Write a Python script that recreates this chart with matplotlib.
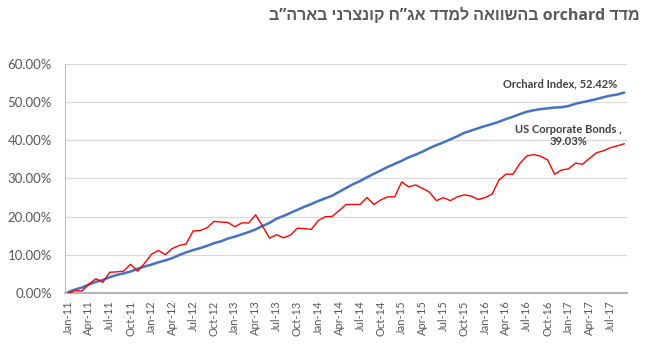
import matplotlib
matplotlib.use("Agg")
import matplotlib.pyplot as plt
from matplotlib.ticker import FuncFormatter, FixedLocator
import datetime as dt

# ---- data ----
start_year, start_month = 2011, 1
orchard = [0.3, 1.0, 1.5, 2.3, 3.0, 3.5, 4.2, 4.8, 5.2, 5.7, 6.4, 7.0, 7.5, 8.1, 8.6, 9.2,
           10.0, 10.7, 11.3, 11.8, 12.4, 13.1, 13.6, 14.3, 14.8, 15.4, 16.0, 16.7, 17.6, 18.4,
           19.5, 20.2, 21.0, 21.8, 22.6, 23.3, 24.1, 24.8, 25.5, 26.5, 27.5, 28.5, 29.3, 30.3,
           31.2, 32.1, 33.0, 33.8, 34.6, 35.5, 36.2, 37.0, 37.9, 38.7, 39.4, 40.2, 41.0, 41.9,
           42.5, 43.1, 43.7, 44.2, 44.8, 45.5, 46.1, 46.8, 47.4, 47.8, 48.1, 48.3, 48.5, 48.6,
           48.9, 49.5, 49.9, 50.3, 50.7, 51.2, 51.6, 51.9, 52.42]
us_corp = [0.0, 0.7, 0.6, 2.4, 3.8, 2.9, 5.5, 5.6, 5.8, 7.6, 5.8, 7.8, 10.2, 11.2, 10.1, 11.7,
           12.5, 12.9, 16.3, 16.4, 17.1, 18.8, 18.6, 18.5, 17.4, 18.4, 18.4, 20.5, 17.5, 14.4,
           15.3, 14.5, 15.2, 17.0, 16.9, 16.7, 19.0, 20.0, 20.1, 21.6, 23.2, 23.2, 23.2, 25.0,
           23.2, 24.4, 25.2, 25.2, 29.1, 27.8, 28.3, 27.4, 26.4, 24.2, 25.0, 24.2, 25.2, 25.7,
           25.4, 24.5, 25.0, 25.9, 29.6, 31.1, 31.1, 33.9, 35.9, 36.2, 35.8, 34.8, 31.1, 32.2,
           32.5, 34.0, 33.7, 35.2, 36.7, 37.2, 38.0, 38.5, 39.03]
series_names = ["Orchard Index", "US Corporate Bonds"]
title_logical = "מדד orchard בהשוואה למדד אג”ח קונצרני בארה”ב"
y_ticks = [0, 10, 20, 30, 40, 50, 60]

# month labels
months = []
for i in range(len(orchard)):
    y = start_year + (start_month - 1 + i) // 12
    m = (start_month - 1 + i) % 12 + 1
    months.append(dt.date(y, m, 1).strftime("%b-%y"))
x = list(range(len(orchard)))
label_idx = list(range(0, len(x), 3))


def visual_order(s):
    """Convert a logical-order RTL string to left-to-right visual order."""
    words = s.split(" ")
    out = []
    for w in reversed(words):
        if any('\u0590' <= ch <= '\u05FF' for ch in w):
            out.append(w[::-1])
        else:
            out.append(w)
    return " ".join(out)


plt.rcParams['font.family'] = ['Lato', 'DejaVu Sans']

fig = plt.figure(figsize=(6.49, 3.56), dpi=100)
ax = fig.add_axes([0.0994, 0.176, 0.8666, 0.6456])

blue = "#4472C4"
red = "#FF0000"
ax.plot(x, orchard, color=blue, lw=1.8, solid_capstyle='round', zorder=3)
ax.plot(x, us_corp, color=red, lw=1.0, zorder=4)

ax.set_xlim(-0.5, 80.4)
ax.set_ylim(0, 60)
ax.yaxis.set_major_locator(FixedLocator(y_ticks))
ax.yaxis.set_major_formatter(FuncFormatter(lambda v, p: f"{v:.2f}%"))
ax.set_xticks(label_idx)
ax.set_xticklabels([months[i] for i in label_idx], rotation=90)

ax.grid(axis='y', color='#D9D9D9', lw=0.9)
ax.set_axisbelow(True)
for s in ['top', 'right']:
    ax.spines[s].set_visible(False)
ax.spines['left'].set_color('#BFBFBF')
ax.spines['bottom'].set_color('#A6A6A6')
ax.spines['bottom'].set_linewidth(1.2)
ax.tick_params(axis='y', length=0, pad=9, labelsize=9.5, labelcolor='#595959')
ax.tick_params(axis='x', length=0, pad=5, labelsize=8, labelcolor='#595959')

ax.annotate(f"{series_names[0]}, {orchard[-1]:.2f}%", xy=(x[-1], orchard[-1]),
            xytext=(-46, 6.5), textcoords='offset points', ha='center', va='center',
            fontsize=8, fontweight='bold', color='#404040')
ax.annotate(f"{series_names[1]} ,\n{us_corp[-1]:.2f}%", xy=(x[-1], us_corp[-1]),
            xytext=(-40, 6), textcoords='offset points', ha='center', va='center',
            fontsize=8, fontweight='bold', color='#404040', linespacing=1.15)

fig.text(0.986, 0.955, visual_order(title_logical), ha='right', va='center',
         fontsize=11.5, fontweight='bold', color='#595959',
         family=['Open Sans', 'Liberation Sans', 'DejaVu Sans'])

fig.savefig("out.png", dpi=100)
